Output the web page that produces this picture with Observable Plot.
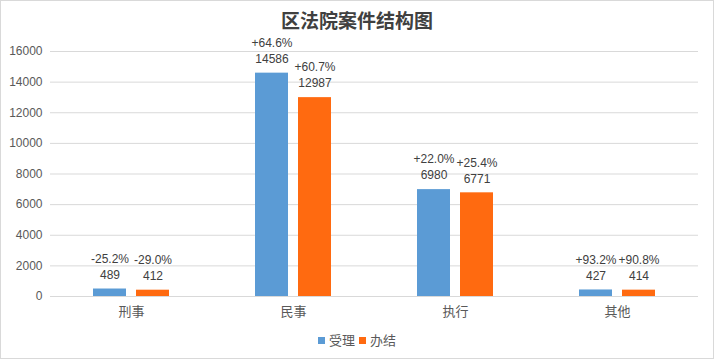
<!DOCTYPE html>
<html>
<head>
<meta charset="utf-8">
<script src="https://cdn.jsdelivr.net/npm/d3@7"></script>
<script src="https://cdn.jsdelivr.net/npm/@observablehq/plot@0.6"></script>
<style>
  body { margin: 0; background: #fff; }
  #wrap { position: relative; width: 714px; height: 359px; background: #fff; font-family: "Liberation Sans", "Noto Sans CJK SC", sans-serif; }
  #border { position: absolute; left: 0; top: 0; width: 714px; height: 359px; box-sizing: border-box; border: 1px solid #d9d9d9; pointer-events: none; }
  #title { height: 40px; line-height: 40px; text-align: center; font-family: "Noto Sans CJK SC", sans-serif; font-weight: bold; font-size: 19px; color: #404040; }
  #legend { height: 33px; line-height: 28px; text-align: center; font-size: 13px; color: #595959; font-family: "Noto Sans CJK SC", sans-serif; }
  #legend .sw { display: inline-block; width: 7px; height: 7px; margin-right: 4px; vertical-align: middle; position: relative; top: -1px; }
  #legend .item { margin: 0 2px; }
  svg { overflow: visible; }
</style>
</head>
<body>
<div id="wrap">
  <div id="title">区法院案件结构图</div>
  <div id="chart"></div>
  <div id="legend"></div>
  <div id="border"></div>
</div>
<script>
const categories = ["刑事", "民事", "执行", "其他"];
const series = ["受理", "办结"];
const colors = ["#5B9BD5", "#FF6A10"];
const accepted = [489, 14586, 6980, 427];
const closed = [412, 12987, 6771, 414];
const acceptedChange = ["-25.2%", "+64.6%", "+22.0%", "+93.2%"];
const closedChange = ["-29.0%", "+60.7%", "+25.4%", "+90.8%"];
const yTicks = [0, 2000, 4000, 6000, 8000, 10000, 12000, 14000, 16000];

const rows = [];
categories.forEach((c, i) => {
  rows.push({category: c, series: series[0], value: accepted[i], change: acceptedChange[i]});
  rows.push({category: c, series: series[1], value: closed[i], change: closedChange[i]});
});

const font = "'Liberation Sans', 'Noto Sans CJK SC', sans-serif";

const chart = Plot.plot({
  width: 714,
  height: 286,
  marginTop: 11,
  marginBottom: 30,
  marginLeft: 49,
  marginRight: 15,
  style: {fontFamily: font, fontSize: "12px", background: "transparent", overflow: "visible"},
  fx: {domain: categories, padding: 0, label: null},
  x: {domain: series, paddingInner: 0.227, paddingOuter: 0.96, axis: null},
  y: {domain: [0, 16000], label: null},
  color: {domain: series, range: colors},
  marks: [
    Plot.gridY(yTicks, {stroke: "#d9d9d9", strokeOpacity: 1}),
    Plot.ruleY([0], {stroke: "#d9d9d9", strokeOpacity: 1}),
    Plot.axisY({ticks: yTicks, tickSize: 0, tickPadding: 8, tickFormat: d => String(d), fill: "#595959", fontSize: 12, label: null}),
    Plot.axisFx({anchor: "bottom", tickSize: 0, tickPadding: 10, fill: "#595959", fontSize: 13, fontFamily: "'Noto Sans CJK SC', sans-serif", label: null}),
    Plot.barY(rows, {fx: "category", x: "series", y: "value", fill: "series"}),
    Plot.text(rows, {fx: "category", x: "series", y: "value", text: d => String(d.value), dy: -14, fill: "#404040", fontSize: 12}),
    Plot.text(rows, {fx: "category", x: "series", y: "value", text: "change", dy: -30, fill: "#404040", fontSize: 12})
  ]
});
document.getElementById("chart").appendChild(chart);

const legend = document.getElementById("legend");
series.forEach((s, i) => {
  const item = document.createElement("span");
  item.className = "item";
  const sw = document.createElement("span");
  sw.className = "sw";
  sw.style.background = colors[i];
  item.appendChild(sw);
  item.appendChild(document.createTextNode(s));
  legend.appendChild(item);
});
</script>
</body>
</html>
